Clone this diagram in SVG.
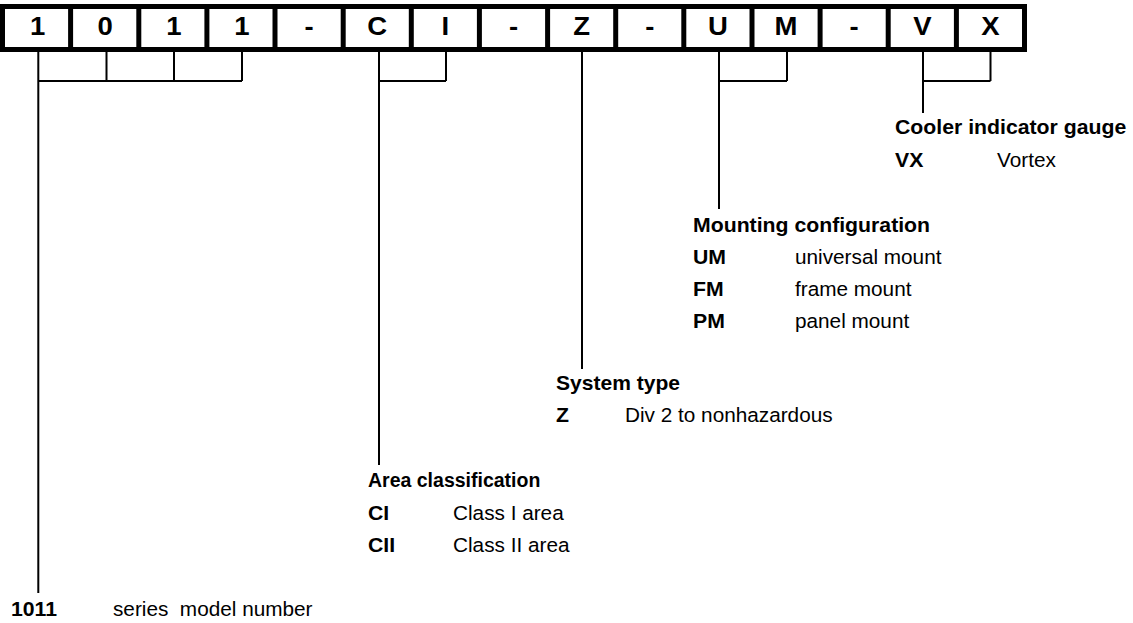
<svg xmlns="http://www.w3.org/2000/svg" width="1133" height="623" viewBox="0 0 1133 623">
<style>
.box{fill:#fff;stroke:#000;stroke-width:5}
.div{stroke:#000;stroke-width:5}
.cell{font-family:"Liberation Sans",Arial,sans-serif;font-weight:bold;font-size:25px;text-anchor:middle;fill:#000}
.ln{stroke:#000;stroke-width:2;fill:none}
.b{font-family:"Liberation Sans",Arial,sans-serif;font-weight:bold;font-size:19.5px;fill:#000}
.r{font-family:"Liberation Sans",Arial,sans-serif;font-size:19.5px;fill:#000}
</style>
<rect width="1133" height="623" fill="#fff"/>
<g id="code">
<rect class="box" x="2.5" y="6.5" width="1022" height="43"/>
<line class="div" x1="70.6" y1="6.5" x2="70.6" y2="49.5"/>
<line class="div" x1="138.8" y1="6.5" x2="138.8" y2="49.5"/>
<line class="div" x1="206.9" y1="6.5" x2="206.9" y2="49.5"/>
<line class="div" x1="275.0" y1="6.5" x2="275.0" y2="49.5"/>
<line class="div" x1="343.2" y1="6.5" x2="343.2" y2="49.5"/>
<line class="div" x1="411.3" y1="6.5" x2="411.3" y2="49.5"/>
<line class="div" x1="479.4" y1="6.5" x2="479.4" y2="49.5"/>
<line class="div" x1="547.6" y1="6.5" x2="547.6" y2="49.5"/>
<line class="div" x1="615.7" y1="6.5" x2="615.7" y2="49.5"/>
<line class="div" x1="683.8" y1="6.5" x2="683.8" y2="49.5"/>
<line class="div" x1="752.0" y1="6.5" x2="752.0" y2="49.5"/>
<line class="div" x1="820.1" y1="6.5" x2="820.1" y2="49.5"/>
<line class="div" x1="888.2" y1="6.5" x2="888.2" y2="49.5"/>
<line class="div" x1="956.4" y1="6.5" x2="956.4" y2="49.5"/>
<text class="cell" transform="translate(37.6,35) scale(1.1,1)">1</text>
<text class="cell" transform="translate(105.2,35) scale(1.1,1)">0</text>
<text class="cell" transform="translate(173.8,35) scale(1.1,1)">1</text>
<text class="cell" transform="translate(242.0,35) scale(1.1,1)">1</text>
<text class="cell" transform="translate(309.1,35) scale(1.1,1)">-</text>
<text class="cell" transform="translate(377.2,35) scale(1.1,1)">C</text>
<text class="cell" transform="translate(445.4,35) scale(1.1,1)">I</text>
<text class="cell" transform="translate(513.5,35) scale(1.1,1)">-</text>
<text class="cell" transform="translate(581.6,35) scale(1.1,1)">Z</text>
<text class="cell" transform="translate(649.8,35) scale(1.1,1)">-</text>
<text class="cell" transform="translate(717.9,35) scale(1.1,1)">U</text>
<text class="cell" transform="translate(786.0,35) scale(1.1,1)">M</text>
<text class="cell" transform="translate(854.2,35) scale(1.1,1)">-</text>
<text class="cell" transform="translate(922.3,35) scale(1.1,1)">V</text>
<text class="cell" transform="translate(990.4,35) scale(1.1,1)">X</text>
</g>
<g id="connectors">
<path class="ln" d="M38.3,52 V593 M106.5,52 V81 M174,52 V81 M242,52 V81 M38.3,81 H242"/>
<path class="ln" d="M379,52 V465 M446,52 V81 M379,81 H446"/>
<path class="ln" d="M582,52 V369"/>
<path class="ln" d="M719,52 V209 M787,52 V81 M719,81 H787"/>
<path class="ln" d="M923,52 V113 M990.5,52 V81 M923,81 H990.5"/>
</g>
<g id="series">
<text class="b" transform="translate(11,616) scale(1.09,1)">1011</text>
<text class="r" transform="translate(113,616) scale(1.065,1)">series&#160; model number</text>
</g>
<g id="area">
<text class="b" transform="translate(368,487) scale(1.0,1)">Area classification</text>
<text class="b" transform="translate(368,520) scale(1.09,1)">CI</text>
<text class="r" transform="translate(453,520) scale(1.065,1)">Class I area</text>
<text class="b" transform="translate(368,552) scale(1.09,1)">CII</text>
<text class="r" transform="translate(453,552) scale(1.065,1)">Class II area</text>
</g>
<g id="system">
<text class="b" transform="translate(556,390) scale(1.08,1)">System type</text>
<text class="b" transform="translate(556,422) scale(1.09,1)">Z</text>
<text class="r" transform="translate(625,422) scale(1.065,1)">Div 2 to nonhazardous</text>
</g>
<g id="mounting">
<text class="b" transform="translate(693,232) scale(1.09,1)">Mounting configuration</text>
<text class="b" transform="translate(693,264) scale(1.09,1)">UM</text>
<text class="r" transform="translate(795,264) scale(1.065,1)">universal mount</text>
<text class="b" transform="translate(693,296) scale(1.09,1)">FM</text>
<text class="r" transform="translate(795,296) scale(1.065,1)">frame mount</text>
<text class="b" transform="translate(693,328) scale(1.09,1)">PM</text>
<text class="r" transform="translate(795,328) scale(1.065,1)">panel mount</text>
</g>
<g id="cooler">
<text class="b" transform="translate(895,134) scale(1.09,1)">Cooler indicator gauge</text>
<text class="b" transform="translate(895,167) scale(1.09,1)">VX</text>
<text class="r" transform="translate(997,167) scale(1.065,1)">Vortex</text>
</g>
</svg>
